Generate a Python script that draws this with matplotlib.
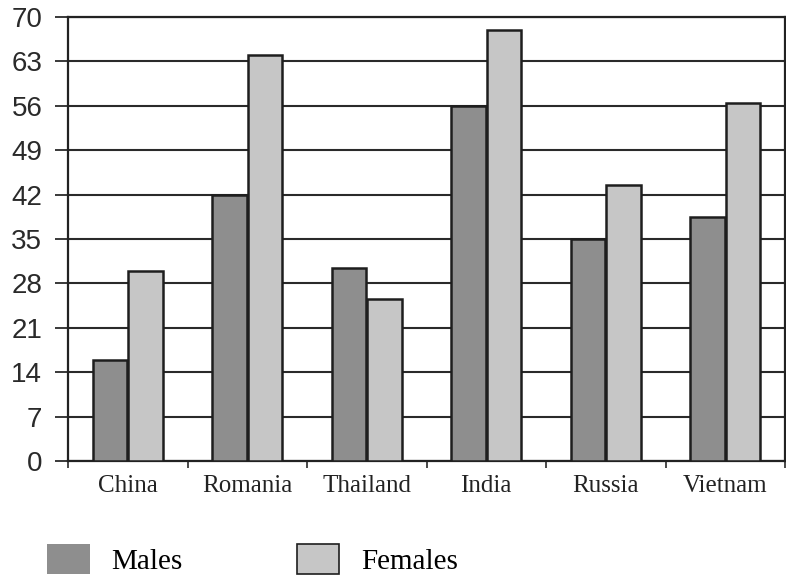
import matplotlib
matplotlib.use("Agg")
import matplotlib.pyplot as plt
import numpy as np
from matplotlib.patches import Patch

countries = ["China", "Romania", "Thailand", "India", "Russia", "Vietnam"]
males = [16, 42, 30.5, 56, 35, 38.5]
females = [30, 64, 25.5, 68, 43.5, 56.5]
yticks = [0, 7, 14, 21, 28, 35, 42, 49, 56, 63, 70]

fig = plt.figure(figsize=(7.86, 5.76), dpi=100)
ax = fig.add_axes([68/786, 115/576, 717/786, 444/576])

x = np.arange(len(countries))
w = 0.29
off = 0.148
male_c = "#8e8e8e"
fem_c = "#c6c6c6"
edge = "#1e1e1e"

ax.bar(x - off, males, w, color=male_c, edgecolor=edge, linewidth=1.8, zorder=3)
ax.bar(x + off, females, w, color=fem_c, edgecolor=edge, linewidth=1.8, zorder=3)

ax.set_xlim(-0.5, len(countries) - 0.5)
ax.set_ylim(0, 70)
ax.set_yticks(yticks)
ax.set_yticklabels([str(v) for v in yticks], fontsize=20, family="Liberation Sans", color="#2a2a2a")
ax.yaxis.grid(True, color="#2a2a2a", linewidth=1.5, zorder=0)
ax.set_axisbelow(True)
ax.tick_params(axis="y", length=9.5, width=1.3, color="#2a2a2a", pad=9)

ax.set_xticks(np.arange(len(countries) + 1) - 0.5)
ax.set_xticklabels([])
ax.set_xticks(x, minor=True)
ax.set_xticklabels(countries, minor=True, fontsize=18, family="Liberation Serif", color="#222222")
ax.tick_params(axis="x", which="major", length=5, width=1.2, color="#2a2a2a", direction="out")
ax.tick_params(axis="x", which="minor", length=0, pad=10)

for s in ax.spines.values():
    s.set_color("#222222")
    s.set_linewidth(1.6)

handles = [Patch(facecolor=male_c, edgecolor="none", label="Males"),
           Patch(facecolor=fem_c, edgecolor=edge, linewidth=1.2, label="Females")]
fig.legend(handles=handles, loc="lower left", bbox_to_anchor=(46/786, 0.0), ncol=2,
           frameon=False, prop={"family": "Liberation Serif", "size": 21},
           handlelength=1.45, handleheight=1.2, handletextpad=0.75, columnspacing=3.9,
           borderpad=0.05, borderaxespad=0)

fig.savefig("out.png", dpi=100)
